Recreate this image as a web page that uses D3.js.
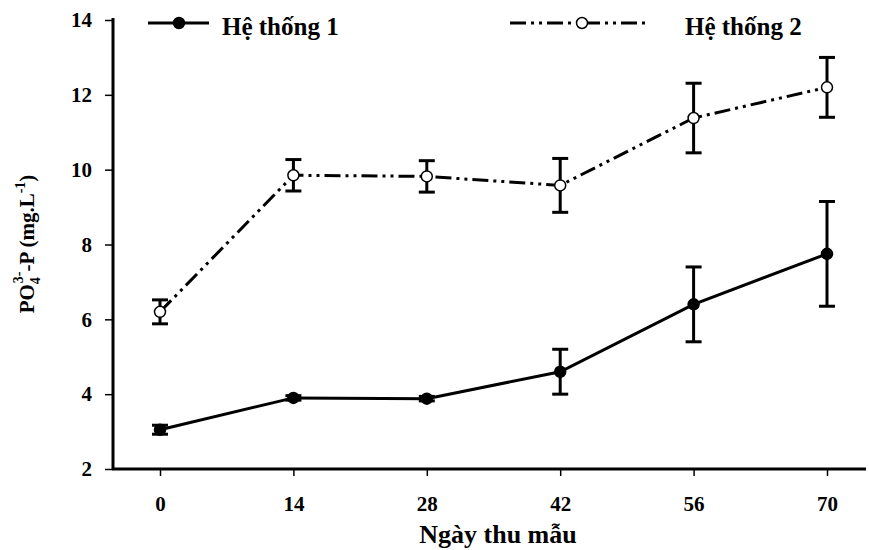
<!DOCTYPE html>
<html>
<head>
<meta charset="utf-8">
<script src="https://cdn.jsdelivr.net/npm/d3@7"></script>
<style>
  body { margin: 0; background: #fff; }
  text { font-family: "Liberation Serif", "Times New Roman", serif; font-weight: bold; fill: #000; }
</style>
</head>
<body>
<div id="chart"></div>
<script>
// data
var days = [0, 14, 28, 42, 56, 70];
var series1 = [3.05, 3.9, 3.88, 4.6, 6.4, 7.75];
var series1Err = [0.12, 0.06, 0.06, 0.6, 1.0, 1.4];
var series2 = [6.2, 9.85, 9.82, 9.58, 11.38, 12.2];
var series2Err = [0.32, 0.42, 0.42, 0.72, 0.93, 0.8];
var seriesNames = ['Hệ thống 1', 'Hệ thống 2'];
var yTicks = [2, 4, 6, 8, 10, 12, 14];

var svgWidth = 869;
var svgHeight = 550;

var svg = d3.select('#chart')
    .append('svg')
    .attr('width', svgWidth)
    .attr('height', svgHeight);

// scales
var xScale = d3.scaleLinear()
    .domain([0, 70])
    .range([160, 827]);

var yScale = d3.scaleLinear()
    .domain([2, 14])
    .range([469, 20]);

// axes
var bottomAxis = d3.axisBottom(xScale).tickValues(days).tickSize(7).tickSizeOuter(0);
var leftAxis = d3.axisLeft(yScale).tickValues(yTicks).tickSize(8).tickSizeOuter(0);

var xAxisG = svg.append('g')
    .attr('transform', 'translate(0, 469)')
    .call(bottomAxis);
xAxisG.select('.domain').remove();
xAxisG.selectAll('.tick line').attr('stroke-width', 1.5);
xAxisG.selectAll('.tick text')
    .attr('font-size', 21)
    .attr('y', 42).attr('dy', null);

var yAxisG = svg.append('g')
    .attr('transform', 'translate(113, 0)')
    .call(leftAxis);
yAxisG.select('.domain').remove();
yAxisG.selectAll('.tick line').attr('stroke-width', 1.5);
yAxisG.selectAll('.tick text').attr('font-size', 21).attr('x', -21);

// axis lines
svg.append('line')
    .attr('x1', 113).attr('x2', 113)
    .attr('y1', 18).attr('y2', 470)
    .attr('stroke', '#000').attr('stroke-width', 3);
svg.append('line')
    .attr('x1', 112).attr('x2', 866)
    .attr('y1', 469).attr('y2', 469)
    .attr('stroke', '#000').attr('stroke-width', 3);

// axis titles
svg.append('text')
    .attr('x', 498).attr('y', 543)
    .attr('text-anchor', 'middle')
    .attr('font-size', 26)
    .text('Ngày thu mẫu');

var yTitle = svg.append('text')
    .attr('transform', 'translate(34, 244) rotate(-90)')
    .attr('text-anchor', 'middle')
    .attr('font-size', 21);
yTitle.append('tspan').text('PO');
yTitle.append('tspan').attr('font-size', 14).attr('dy', 6).text('4');
yTitle.append('tspan').attr('font-size', 14).attr('dx', -6).attr('dy', -17).text('3-');
yTitle.append('tspan').attr('dy', 11).text('-P (mg.L');
yTitle.append('tspan').attr('font-size', 14).attr('dy', -9).text('-1');
yTitle.append('tspan').attr('dy', 9).text(')');

var line = d3.line()
    .x(function(d) { return xScale(d[0]); })
    .y(function(d) { return yScale(d[1]); });

var dash2 = '16,5,3,5,3,5';

function drawSeries(vals, errs, filled, dash) {
    var pts = days.map(function(d, i) { return [d, vals[i], errs[i]]; });
    var g = svg.append('g');

    // error bars
    var eb = g.selectAll('.eb').data(pts).enter().append('g');
    eb.append('line')
        .attr('x1', d => xScale(d[0])).attr('x2', d => xScale(d[0]))
        .attr('y1', d => yScale(d[1] - d[2])).attr('y2', d => yScale(d[1] + d[2]))
        .attr('stroke', '#000').attr('stroke-width', 3);
    eb.append('line')
        .attr('x1', d => xScale(d[0]) - 8).attr('x2', d => xScale(d[0]) + 8)
        .attr('y1', d => yScale(d[1] + d[2])).attr('y2', d => yScale(d[1] + d[2]))
        .attr('stroke', '#000').attr('stroke-width', 3);
    eb.append('line')
        .attr('x1', d => xScale(d[0]) - 8).attr('x2', d => xScale(d[0]) + 8)
        .attr('y1', d => yScale(d[1] - d[2])).attr('y2', d => yScale(d[1] - d[2]))
        .attr('stroke', '#000').attr('stroke-width', 3);

    g.append('path')
        .datum(pts)
        .attr('d', line)
        .attr('fill', 'none')
        .attr('stroke', '#000')
        .attr('stroke-width', 3)
        .attr('stroke-dasharray', dash);

    g.selectAll('circle').data(pts).enter().append('circle')
        .attr('cx', d => xScale(d[0]))
        .attr('cy', d => yScale(d[1]))
        .attr('r', 5.5)
        .attr('fill', filled ? '#000' : '#fff')
        .attr('stroke', '#000')
        .attr('stroke-width', 1.5);
}

drawSeries(series1, series1Err, true, null);
drawSeries(series2, series2Err, false, dash2);

// legend
var legend = [
    { name: seriesNames[0], x1: 148, x2: 209, mx: 179, tx: 222, filled: true, dash: null },
    { name: seriesNames[1], x1: 510, x2: 645, mx: 582, tx: 685, filled: false, dash: dash2 }
];
legend.forEach(function(l) {
    svg.append('line')
        .attr('x1', l.x1).attr('x2', l.x2)
        .attr('y1', 23).attr('y2', 23)
        .attr('stroke', '#000').attr('stroke-width', 3)
        .attr('stroke-dasharray', l.dash);
    svg.append('circle')
        .attr('cx', l.mx).attr('cy', 23).attr('r', 5.5)
        .attr('fill', l.filled ? '#000' : '#fff')
        .attr('stroke', '#000').attr('stroke-width', 1.5);
    svg.append('text')
        .attr('x', l.tx).attr('y', 35)
        .attr('font-size', 25)
        .text(l.name);
});
</script>
</body>
</html>
